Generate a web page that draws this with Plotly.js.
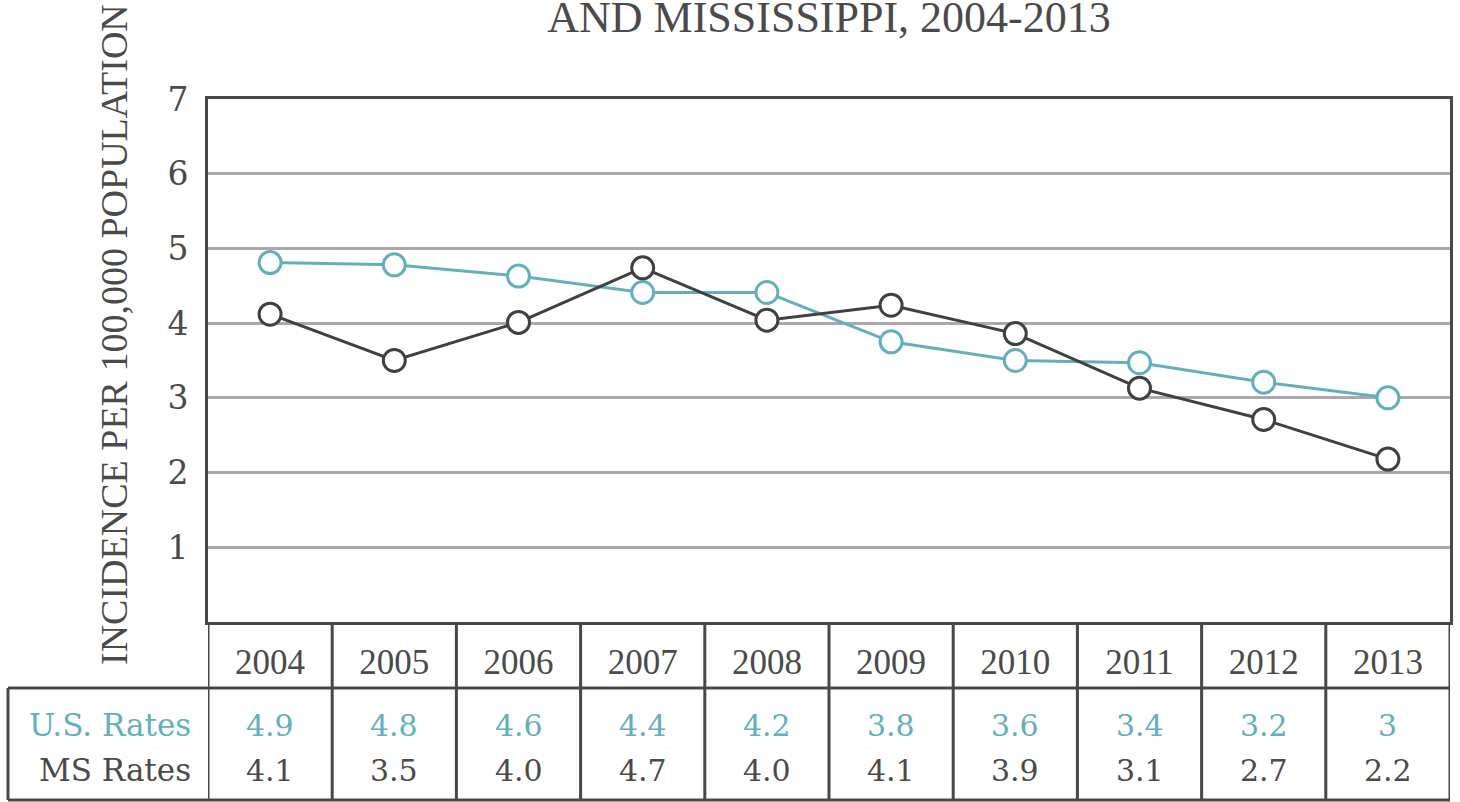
<!DOCTYPE html>
<html>
<head>
<meta charset="utf-8">
<script src="https://cdn.plot.ly/plotly-3.0.1.min.js"></script>
<style>
  html, body { margin: 0; padding: 0; background: #ffffff; }
  #chart { width: 1460px; height: 802px; }
</style>
</head>
<body>
<div id="chart"></div>
<script>
// ---- data ----
const years = ['2004', '2005', '2006', '2007', '2008', '2009', '2010', '2011', '2012', '2013'];
// plotted values
const usPlotted = [4.81, 4.78, 4.63, 4.41, 4.41, 3.75, 3.50, 3.47, 3.21, 3.00];
const msPlotted = [4.12, 3.50, 4.01, 4.74, 4.04, 4.24, 3.86, 3.13, 2.71, 2.18];
// values printed in the table under the chart
const usTable = ['4.9', '4.8', '4.6', '4.4', '4.2', '3.8', '3.6', '3.4', '3.2', '3'];
const msTable = ['4.1', '3.5', '4.0', '4.7', '4.0', '4.1', '3.9', '3.1', '2.7', '2.2'];
const yTicks = [1, 2, 3, 4, 5, 6, 7];
const rowLabels = ['U.S. Rates', 'MS Rates'];
const titleText = 'AND MISSISSIPPI, 2004-2013';
const yTitleText = 'INCIDENCE PER 100,000 POPULATION';

// ---- style ----
const TEAL = '#64afbc';
const DARK = '#404040';
const TEXT = '#4a4a4a';
const BORDER = '#484848';
const SERIF_A = 'Liberation Serif, Times New Roman, serif';
const SERIF_B = 'DejaVu Serif, serif';

const W = 1460, H = 802;
const L = 208, R = 10, T = 99, B = 180;
const plotH = H - T - B;
const plotW = W - L - R;
const py = (pix) => (H - B - pix) / plotH;   // pixel y -> paper y
const px = (pix) => (pix - L) / plotW;       // pixel x -> paper x

const traces = [
  {
    x: years, y: usPlotted, type: 'scatter', mode: 'lines+markers', name: rowLabels[0],
    line: { color: TEAL, width: 3 },
    marker: { symbol: 'circle', size: 22, color: '#ffffff', line: { color: TEAL, width: 3 } },
    hoverinfo: 'x+y'
  },
  {
    x: years, y: msPlotted, type: 'scatter', mode: 'lines+markers', name: rowLabels[1],
    line: { color: DARK, width: 3 },
    marker: { symbol: 'circle', size: 22, color: '#ffffff', line: { color: DARK, width: 3 } },
    hoverinfo: 'x+y'
  }
];

const shapes = [];
const lineStyle = { color: BORDER, width: 3 };
// vertical column borders through the table
for (let i = 0; i <= years.length; i++) {
  shapes.push({ type: 'line', xref: 'x', yref: 'paper', x0: i - 0.5, x1: i - 0.5, y0: 0, y1: py(800), line: lineStyle, layer: 'above' });
}
// horizontal rows
shapes.push({ type: 'line', xref: 'paper', yref: 'paper', x0: px(8), x1: 1, y0: py(688), y1: py(688), line: lineStyle });
shapes.push({ type: 'line', xref: 'paper', yref: 'paper', x0: px(8), x1: 1, y0: py(800), y1: py(800), line: lineStyle });
shapes.push({ type: 'line', xref: 'paper', yref: 'paper', x0: px(8), x1: px(8), y0: py(688), y1: py(800), line: lineStyle });

const annotations = [];
years.forEach((yr, i) => {
  annotations.push({ xref: 'x', yref: 'paper', x: i, y: py(725), text: usTable[i], showarrow: false,
    xanchor: 'center', yanchor: 'middle', font: { family: SERIF_B, size: 30, color: TEAL } });
  annotations.push({ xref: 'x', yref: 'paper', x: i, y: py(770), text: msTable[i], showarrow: false,
    xanchor: 'center', yanchor: 'middle', font: { family: SERIF_B, size: 30, color: TEXT } });
});
annotations.push({ xref: 'paper', yref: 'paper', x: px(193), y: py(725), text: rowLabels[0], showarrow: false,
  xanchor: 'right', yanchor: 'middle', font: { family: SERIF_B, size: 31, color: TEAL } });
annotations.push({ xref: 'paper', yref: 'paper', x: px(193), y: py(770), text: rowLabels[1], showarrow: false,
  xanchor: 'right', yanchor: 'middle', font: { family: SERIF_B, size: 31, color: TEXT } });
annotations.push({ xref: 'paper', yref: 'paper', x: px(114), y: py(335), text: yTitleText, showarrow: false,
  textangle: -90, xanchor: 'center', yanchor: 'middle', font: { family: SERIF_A, size: 38, color: TEXT } });

const layout = {
  width: W, height: H,
  margin: { l: L, r: R, t: T, b: B },
  paper_bgcolor: '#ffffff', plot_bgcolor: '#ffffff',
  showlegend: false,
  title: {
    text: titleText, x: 0.5, xref: 'paper', xanchor: 'center',
    y: 0.998, yref: 'container', yanchor: 'top', pad: { t: 0 },
    font: { family: SERIF_A, size: 44, color: TEXT }
  },
  xaxis: {
    type: 'category', range: [-0.5, 9.5], fixedrange: true,
    showgrid: false, zeroline: false,
    showline: true, mirror: true, linecolor: BORDER, linewidth: 3,
    ticks: 'outside', ticklen: 7, tickcolor: 'rgba(0,0,0,0)',
    tickfont: { family: SERIF_A, size: 35, color: TEXT }
  },
  yaxis: {
    range: [0, 7], tickvals: yTicks, fixedrange: true,
    showgrid: true, gridcolor: '#a9a9a9', gridwidth: 2.5, zeroline: false,
    showline: true, mirror: true, linecolor: BORDER, linewidth: 3,
    ticks: 'outside', ticklen: 10, tickcolor: 'rgba(0,0,0,0)',
    tickfont: { family: SERIF_B, size: 33, color: TEXT }
  },
  shapes: shapes,
  annotations: annotations
};

Plotly.newPlot('chart', traces, layout, { displayModeBar: false, staticPlot: false });
</script>
</body>
</html>
